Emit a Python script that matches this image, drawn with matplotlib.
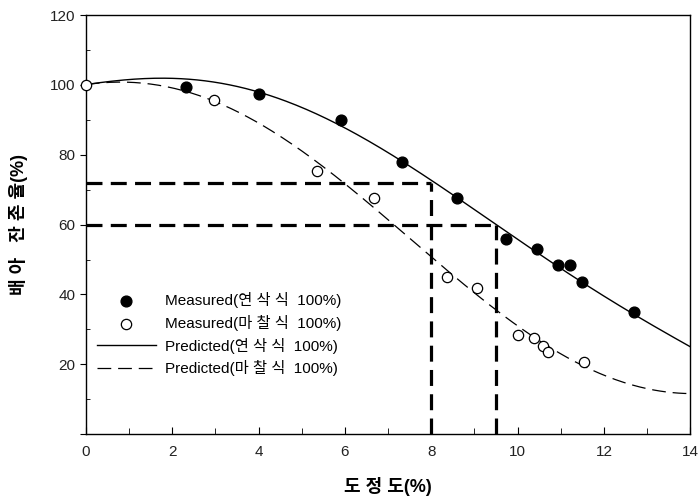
import matplotlib
matplotlib.use("Agg")
import matplotlib.pyplot as plt
from matplotlib.ticker import MultipleLocator, FixedLocator
import numpy as np

# Measured data
grind_x = [2.33, 4.0, 5.9, 7.32, 8.59, 9.73, 10.44, 10.94, 11.21, 11.5, 12.7]
grind_y = [99.4, 97.4, 90.0, 78.0, 67.6, 55.8, 53.0, 48.5, 48.3, 43.7, 35.1]
fric_x = [0.0, 2.97, 5.36, 6.68, 8.36, 9.05, 10.0, 10.39, 10.58, 10.71, 11.53]
fric_y = [100.0, 95.7, 75.4, 67.6, 45.1, 41.8, 28.3, 27.5, 25.2, 23.4, 20.6]

# Predicted curves
pred_x = [0, 1, 2, 3, 4, 5, 6, 7, 8, 9, 10, 11, 12, 13, 14]
pred_grind = [100, 101.7, 102, 100.8, 97.4, 93.5, 88, 81.3, 72.2, 64, 55.8, 47.6, 39.6, 32, 25]
pred_fric = [100, 101, 99, 95.4, 88.8, 80.8, 72, 61.8, 50.6, 40.4, 30.5, 23.3, 17, 12.9, 11.6]

# Reference lines
ref_x = [8.0, 9.5]
ref_y = [72.0, 60.0]

legend_labels = ["Measured(연 삭 식  100%)", "Measured(마 찰 식  100%)",
                 "Predicted(연 삭 식  100%)", "Predicted(마 찰 식  100%)"]

plt.rcParams['font.family'] = ['Liberation Sans', 'Noto Sans CJK KR']

fig = plt.figure(figsize=(6.98, 5.03), dpi=100)
ax = fig.add_axes([0.123, 0.137, 0.866, 0.833])

xs = np.linspace(0, 14, 300)
def smooth(xp, yp):
    from numpy.polynomial import Polynomial
    p = Polynomial.fit(xp, yp, 5)
    return p(xs)

l1, = ax.plot(xs, smooth(pred_x, pred_grind), color='black', lw=1.0, ls='-')
l2, = ax.plot(xs, smooth(pred_x, pred_fric), color='black', lw=0.9, ls=(0, (11, 5.5)))

s1 = ax.scatter(grind_x, grind_y, s=60, facecolor='black', edgecolor='black', zorder=5, clip_on=False)
s2 = ax.scatter(fric_x, fric_y, s=55, facecolor='white', edgecolor='black', linewidths=0.9, zorder=5, clip_on=False)

for rx, ry in zip(ref_x, ref_y):
    ax.plot([0, rx], [ry, ry], color='black', lw=2.3, ls=(0, (5, 2.6)))
    ax.plot([rx, rx], [0, ry], color='black', lw=2.3, ls=(0, (5, 2.6)))

ax.set_xlim(0, 14)
ax.set_ylim(0, 120)
ax.xaxis.set_major_locator(MultipleLocator(2))
ax.xaxis.set_minor_locator(MultipleLocator(1))
ax.yaxis.set_major_locator(FixedLocator([0, 20, 40, 60, 80, 100, 120]))
ax.yaxis.set_minor_locator(MultipleLocator(10))
ax.set_yticklabels(['', '20', '40', '60', '80', '100', '120'])
ax.tick_params(axis='x', which='both', direction='in', labelsize=11, pad=8, labelcolor='#222222')
ax.tick_params(axis='x', which='major', length=5)
ax.tick_params(axis='x', which='minor', length=4)
ax.tick_params(axis='y', which='major', direction='out', length=4, labelsize=11, labelcolor='#222222')
ax.tick_params(axis='y', which='minor', direction='in', length=3)
for sp in ax.spines.values():
    sp.set_linewidth(1.0)

ax.set_xlabel("도 정 도(%)", fontsize=13, fontweight='bold', labelpad=13)
ax.set_ylabel("배 아   잔 존 율(%)", fontsize=13, fontweight='bold', labelpad=16)

leg = ax.legend([s1, s2, l1, l2], legend_labels, loc='upper left',
                bbox_to_anchor=(0.0, 0.365), frameon=False, fontsize=11,
                handlelength=3.9, handletextpad=0.6, labelspacing=0.45,
                borderaxespad=0.3)

fig.savefig("out.png", dpi=100)
